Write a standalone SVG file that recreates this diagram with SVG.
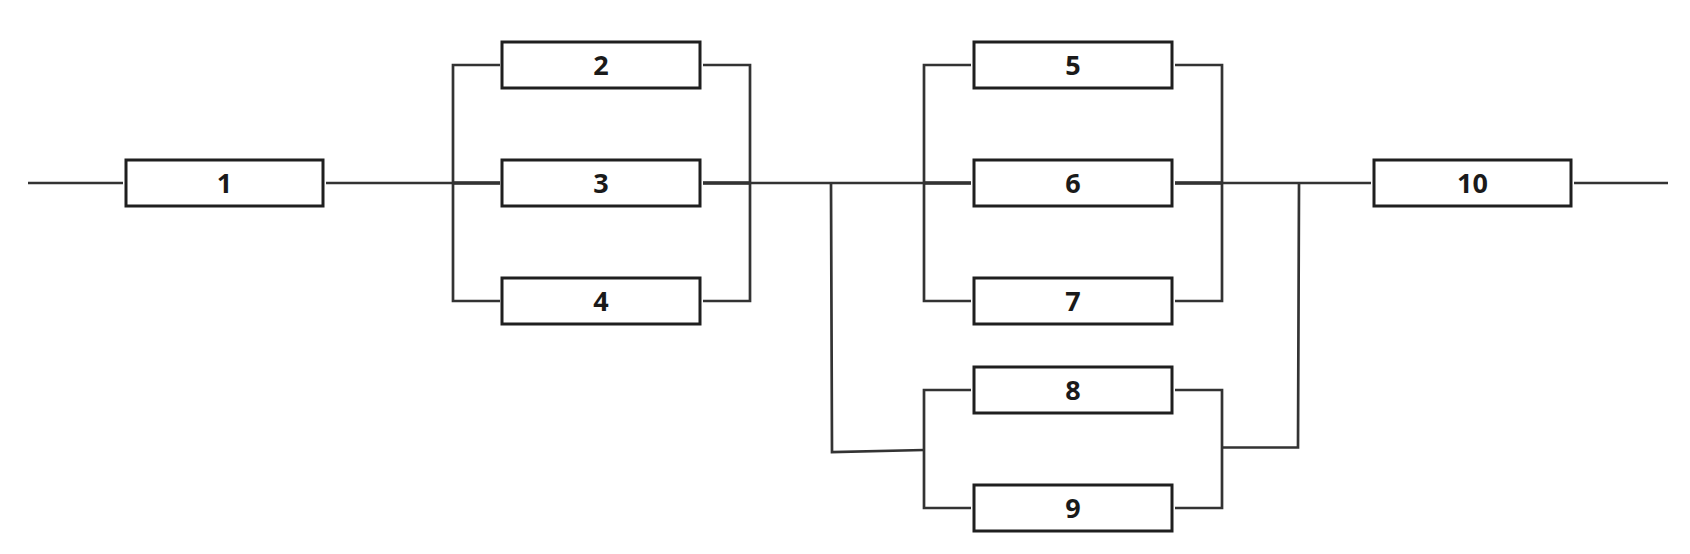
<svg xmlns="http://www.w3.org/2000/svg" width="1690" height="554" viewBox="0 0 1690 554">
<style>
.box{fill:#fff;stroke:#1f1f1f;stroke-width:3}
.lbl{font-family:"Open Sans","Noto Sans","Liberation Sans",sans-serif;font-weight:700;font-size:27px;fill:#1a1a1a;text-anchor:middle}
.c{fill:none;stroke:#333;stroke-width:2.7;stroke-linejoin:miter}
.t{fill:none;stroke:#333;stroke-width:3.6}
</style>
<rect width="1690" height="554" fill="#fff"/>
<g id="connectors">
<path class="c" d="M28 183H123"/>
<path class="c" d="M326 183H500"/>
<path class="c" d="M500 65H453V301H500"/>
<path class="c" d="M703 65H750V301H703"/>
<path class="c" d="M703 183H971"/>
<path class="c" d="M971 65H924V301H971"/>
<path class="c" d="M1175 65H1222V301H1175"/>
<path class="c" d="M1175 183H1371"/>
<path class="c" d="M1574 183H1668"/>
<path class="c" d="M831 184L832 452L924 450"/>
<path class="c" d="M971 390H924V508H971"/>
<path class="c" d="M1175 390H1222V508H1175"/>
<path class="c" d="M1222 447.5H1298L1299 184"/>
<path class="t" d="M453 183H500M703 183H750M924 183H971M1175 183H1222"/>
</g>
<g id="n1"><rect class="box" x="126" y="160" width="197" height="46"/><text class="lbl" x="224.5" y="193">1</text></g>
<g id="n2"><rect class="box" x="502" y="42" width="198" height="46"/><text class="lbl" x="601" y="75">2</text></g>
<g id="n3"><rect class="box" x="502" y="160" width="198" height="46"/><text class="lbl" x="601" y="193">3</text></g>
<g id="n4"><rect class="box" x="502" y="278" width="198" height="46"/><text class="lbl" x="601" y="311">4</text></g>
<g id="n5"><rect class="box" x="974" y="42" width="198" height="46"/><text class="lbl" x="1073" y="75">5</text></g>
<g id="n6"><rect class="box" x="974" y="160" width="198" height="46"/><text class="lbl" x="1073" y="193">6</text></g>
<g id="n7"><rect class="box" x="974" y="278" width="198" height="46"/><text class="lbl" x="1073" y="311">7</text></g>
<g id="n8"><rect class="box" x="974" y="367" width="198" height="46"/><text class="lbl" x="1073" y="400">8</text></g>
<g id="n9"><rect class="box" x="974" y="485" width="198" height="46"/><text class="lbl" x="1073" y="518">9</text></g>
<g id="n10"><rect class="box" x="1374" y="160" width="197" height="46"/><text class="lbl" x="1472.5" y="193">10</text></g>
</svg>
